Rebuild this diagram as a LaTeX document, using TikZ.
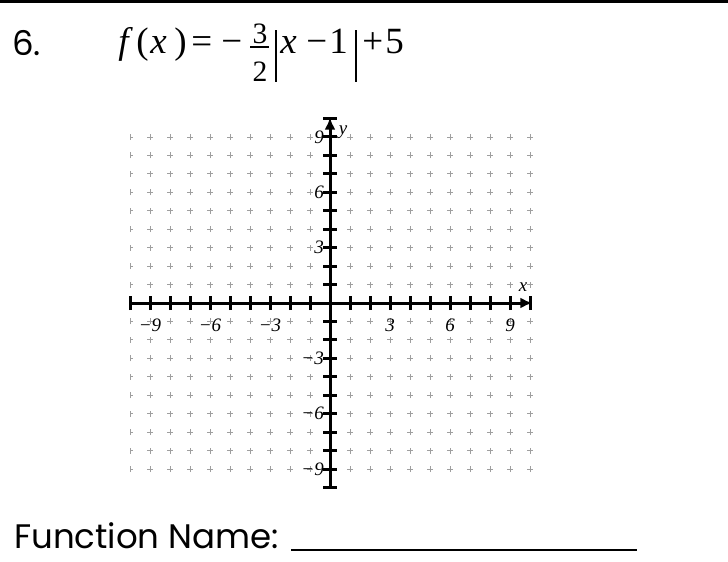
\documentclass[tikz,border=0pt]{standalone}
\usepackage{fontspec}
\usetikzlibrary{arrows.meta}
\newfontfamily\lblfont{Liberation Serif}
\newfontfamily\gothic{Poppins}
\newcommand\putat[2]{\makebox[0pt][l]{\hspace{#1pt}#2}}
\newcommand\myfrac[2]{\makebox[0pt][l]{\rule[6pt]{19pt}{1.7pt}}%
  \makebox[0pt][l]{\makebox[19pt]{\raisebox{10.2pt}{\fontsize{29.6}{29.6}\selectfont #1}}}%
  \makebox[0pt][l]{\makebox[19pt]{\raisebox{-28.2pt}{\fontsize{29.6}{29.6}\selectfont #2}}}}
\newcommand\absbar{\rule[-28.2pt]{1.8pt}{51.5pt}}
\begin{document}
\begin{tikzpicture}[x=1pt,y=-1pt,
  plusmark/.style={draw=gray!75,line width=0.9pt},
  axisline/.style={line width=3pt},
  tickmark/.style={line width=3pt},
  axlabel/.style={font=\lblfont\itshape\fontsize{19}{19}\selectfont,inner sep=0pt},
  titletext/.style={font=\gothic\fontsize{34}{34}\selectfont,inner sep=0pt,anchor=base west}]
\useasboundingbox (0,0) rectangle (728,562);
\coordinate (tl) at (0,1.5);
\coordinate (tr) at (728,1.5);
\draw[line width=2.5pt] (tl) -- (tr);
\node[titletext] (num) at (12,55) {6.};
\node[inner sep=0pt,anchor=base west] (formula) at (111.7,53.5)
  {\lblfont\fontsize{37}{37}\selectfont
   \putat{6}{\textit{f}}\putat{24}{(}\putat{38}{\textit{x}}\putat{62}{)}%
   \putat{79}{=}\putat{109}{−}\putat{138}{\myfrac{3}{2}}%
   \putat{163}{\absbar}\putat{168}{\textit{x}}\putat{194}{−}\putat{217}{1}%
   \putat{243}{\absbar}\putat{250}{+}\putat{273}{5}\hspace{296pt}};
\node[titletext] (fname) at (14,548) {Function Name: \rule[-3pt]{346pt}{1.8pt}};
\begin{scope}[shift={(330,303)},x=20pt,y=18.45pt]
  \begin{scope}
    \clip (-10,-10) rectangle (10.6,10);
    \foreach \i in {-10,...,10}{
      \foreach \j in {-9,...,9}{
        \ifnum\i=0\else\ifnum\j=0\else
          \draw[plusmark] (\i,\j) ++(-3pt,0pt) -- ++(6pt,0pt);
          \draw[plusmark] (\i,\j) ++(0pt,-3pt) -- ++(0pt,6pt);
        \fi\fi
      }
    }
  \end{scope}
  \coordinate (xl) at (-10,0);
  \coordinate (xr) at (10.12,0);
  \coordinate (yb) at (0,-10);
  \coordinate (yt) at (0,10.05);
  \foreach \i in {-10,...,10}{
    \draw[tickmark] (\i,0) ++(0pt,-7pt) -- ++(0pt,14pt);
    \draw[tickmark] (0,\i) ++(-7pt,0pt) -- ++(14pt,0pt);
  }
  \draw[axisline,-{Latex[length=12pt,width=11pt]}] (xl) -- (xr);
  \draw[axisline,-{Latex[length=12pt,width=11pt]}] (yb) -- (yt);
  \foreach \v/\t in {-9/−9,-6/−6,-3/−3,3/3,6/6,9/9}{
    \node[axlabel] (lx\v) at ([yshift=-22pt]\v,0) {\t};
    \node[axlabel,anchor=east] (ly\v) at ([xshift=-6pt]0,\v) {\t};
  }
  \node[axlabel] (xlab) at (9.65,0.87) {x};
  \node[axlabel] (ylab) at (0.65,9.28) {y};
\end{scope}
\end{tikzpicture}
\end{document}
